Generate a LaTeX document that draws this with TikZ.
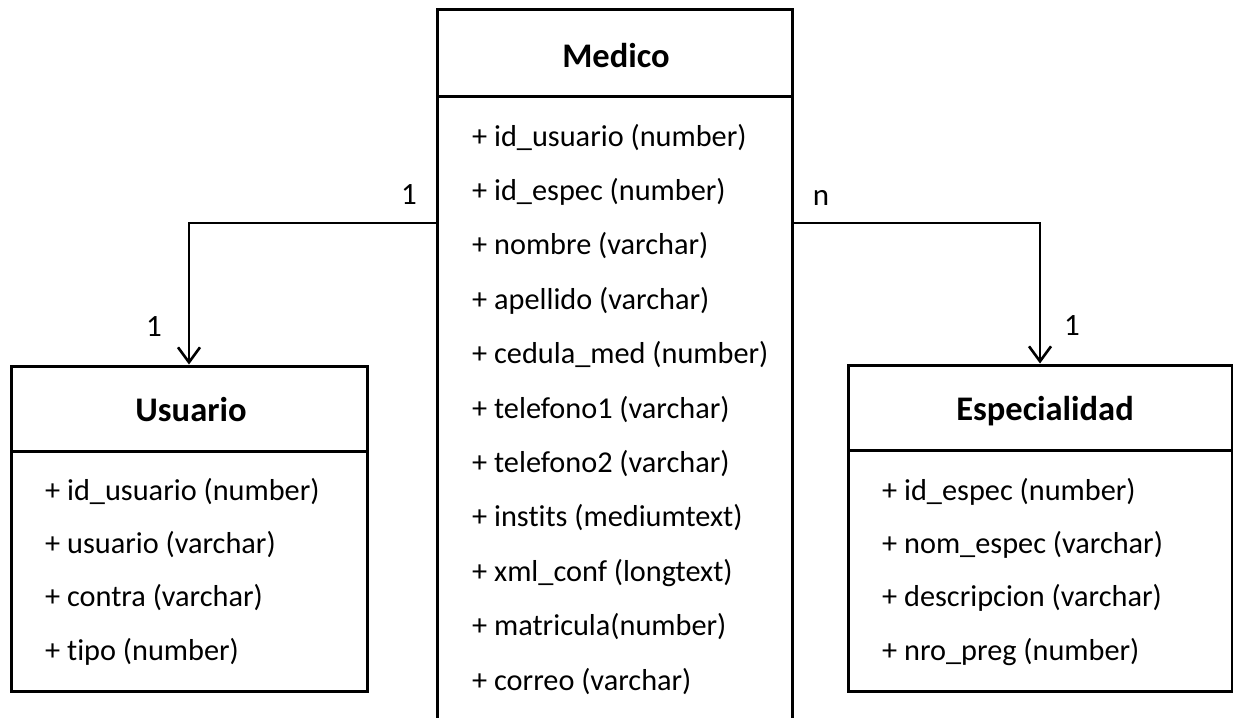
\documentclass[tikz,border=0pt]{standalone}
\usepackage{fontspec}
\setmainfont{Carlito}[Ligatures=NoCommon]
\usepackage{tikz}
\usetikzlibrary{arrows.meta}
\tikzstyle{class box}=[fill=white, draw=black, shape=rectangle, line width=3pt, inner sep=0pt]
\tikzstyle{class title}=[anchor=base, inner sep=0pt, font=\fontsize{34.5}{41}\selectfont\bfseries]
\tikzstyle{attr}=[anchor=base west, inner sep=0pt, font=\fontsize{30.3}{36}\selectfont]
\tikzstyle{mult}=[anchor=base, inner sep=0pt, font=\fontsize{31}{37}\selectfont]
\tikzstyle{link}=[draw=black, line width=2.6pt, -{Straight Barb[length=15pt,width=22pt]}]
\pgfdeclarelayer{nodelayer}
\pgfdeclarelayer{edgelayer}
\pgfsetlayers{nodelayer,edgelayer,main}

\begin{document}
\begin{tikzpicture}[x=1pt, y=-1pt]
	\useasboundingbox (0, 0) rectangle (1233, 717);
	\begin{pgfonlayer}{nodelayer}
		% Medico
		\node [style=class box, minimum width=355pt, minimum height=86pt] (medico) at (614.5, 53) {};
		\node [style=class box, minimum width=355pt, minimum height=626pt] (medico attrs) at (614.5, 409) {};
		\node [style=class title] (medico title) at (616, 67) {Medico};
		\node [style=attr] (m1) at (472, 146) {+ id\_usuario (number)};
		\node [style=attr] (m2) at (472, 200.4) {+ id\_espec (number)};
		\node [style=attr] (m3) at (472, 254.8) {+ nombre (varchar)};
		\node [style=attr] (m4) at (472, 309.2) {+ apellido (varchar)};
		\node [style=attr] (m5) at (472, 363.6) {+ cedula\_med (number)};
		\node [style=attr] (m6) at (472, 418) {+ telefono1 (varchar)};
		\node [style=attr] (m7) at (472, 472.4) {+ telefono2 (varchar)};
		\node [style=attr] (m8) at (472, 526.8) {+ instits (mediumtext)};
		\node [style=attr] (m9) at (472, 581.2) {+ xml\_conf (longtext)};
		\node [style=attr] (m10) at (472, 635.6) {+ matricula(number)};
		\node [style=attr] (m11) at (472, 690) {+ correo (varchar)};
		% Usuario
		\node [style=class box, minimum width=356pt, minimum height=85pt] (usuario) at (189, 408.5) {};
		\node [style=class box, minimum width=356pt, minimum height=240pt] (usuario attrs) at (189, 571) {};
		\node [style=class title] (usuario title) at (191, 421) {Usuario};
		\node [style=attr] (u1) at (45, 500) {+ id\_usuario (number)};
		\node [style=attr] (u2) at (45, 553.4) {+ usuario (varchar)};
		\node [style=attr] (u3) at (45, 606.8) {+ contra (varchar)};
		\node [style=attr] (u4) at (45, 660.2) {+ tipo (number)};
		% Especialidad
		\node [style=class box, minimum width=384pt, minimum height=85pt] (especialidad) at (1040, 407.5) {};
		\node [style=class box, minimum width=384pt, minimum height=241pt] (especialidad attrs) at (1040, 570.5) {};
		\node [style=class title] (especialidad title) at (1045, 420) {Especialidad};
		\node [style=attr] (e1) at (882, 500) {+ id\_espec (number)};
		\node [style=attr] (e2) at (882, 553.4) {+ nom\_espec (varchar)};
		\node [style=attr] (e3) at (882, 606.8) {+ descripcion (varchar)};
		\node [style=attr] (e4) at (882, 660.2) {+ nro\_preg (number)};
		% multiplicities
		\node [style=mult] (mult mu) at (409, 204) {1};
		\node [style=mult] (mult um) at (154, 336) {1};
		\node [style=mult] (mult me) at (821, 205) {n};
		\node [style=mult] (mult em) at (1072, 335) {1};
	\end{pgfonlayer}
	\begin{pgfonlayer}{edgelayer}
		\draw [style=link] (medico attrs.west |- 0,223) -| (usuario.north);
		\draw [style=link] (medico attrs.east |- 0,223) -| (especialidad.north);
	\end{pgfonlayer}
\end{tikzpicture}
\end{document}
